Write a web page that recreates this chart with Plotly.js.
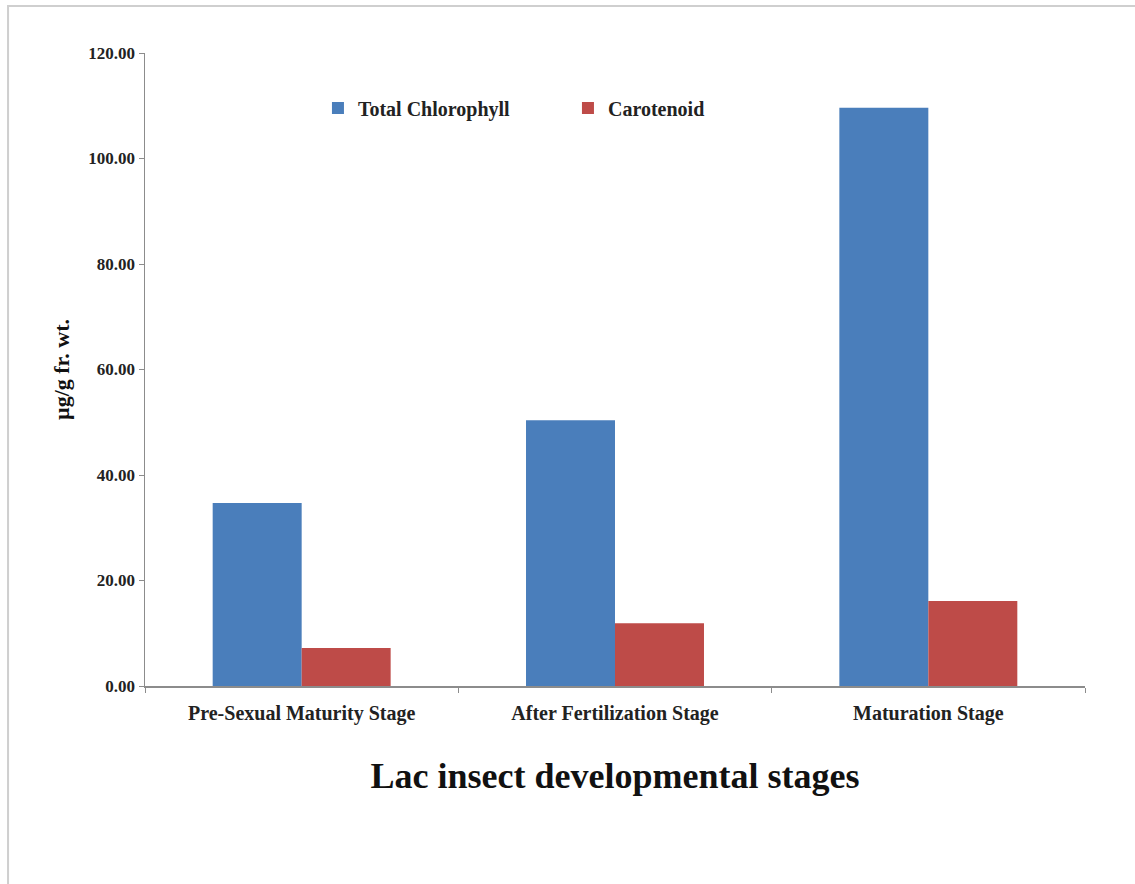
<!DOCTYPE html>
<html>
<head>
<meta charset="utf-8">
<script src="https://cdn.plot.ly/plotly-3.0.1.min.js"></script>
<style>
  html, body { margin: 0; padding: 0; background: #fff; }
  #chart { width: 1135px; height: 884px; }
</style>
</head>
<body>
<div id="chart"></div>
<script>
const categories = ["Pre-Sexual Maturity Stage", "After Fertilization Stage", "Maturation Stage"];
const totalChlorophyll = [34.7, 50.4, 109.6];
const carotenoid = [7.2, 11.9, 16.1];
const yTickValues = [0, 20, 40, 60, 80, 100, 120];
const yTickLabels = ["0.00", "20.00", "40.00", "60.00", "80.00", "100.00", "120.00"];

const serif = "Liberation Serif, Times New Roman, serif";

const traces = [
  {
    type: "bar", name: "Total Chlorophyll", x: categories, y: totalChlorophyll,
    marker: { color: "#4a7ebb" }
  },
  {
    type: "bar", name: "Carotenoid", x: categories, y: carotenoid,
    marker: { color: "#be4b48" }
  }
];

const layout = {
  width: 1135, height: 884,
  margin: { l: 145, r: 50, t: 53, b: 198 },
  paper_bgcolor: "#ffffff", plot_bgcolor: "#ffffff",
  barmode: "group", bargap: 0.432, bargroupgap: 0,
  showlegend: true,
  legend: {
    orientation: "h", x: 0.184, y: 0.913, xanchor: "left", yanchor: "middle",
    font: { family: serif, size: 20, color: "#222", weight: "bold" },
    entrywidth: 205, itemwidth: 30, bgcolor: "rgba(0,0,0,0)"
  },
  xaxis: {
    type: "category",
    showline: true, linecolor: "#8c8c8c", linewidth: 1.5,
    ticks: "outside", tickson: "boundaries", ticklen: 5, tickcolor: "#8c8c8c",
    tickfont: { family: serif, size: 20, color: "#222", weight: "bold" },
    ticklabelstandoff: 8,
    showgrid: false, zeroline: false,
    title: { text: "<b>Lac insect developmental stages</b>", font: { family: serif, size: 36, color: "#111" }, standoff: 39 }
  },
  yaxis: {
    range: [0, 120],
    tickvals: yTickValues, ticktext: yTickLabels,
    showline: true, linecolor: "#8c8c8c", linewidth: 1.5,
    ticks: "outside", ticklen: 5, tickcolor: "#8c8c8c",
    tickfont: { family: serif, size: 17, color: "#222", weight: "bold" },
    showgrid: false, zeroline: false,
    title: { text: "<b>µg/g fr. wt.</b>", font: { family: serif, size: 22, color: "#111" }, standoff: 12 }
  },
  shapes: [
    {
      type: "rect", xref: "paper", yref: "paper",
      x0: -0.1457, x1: 1.07, y0: -0.33, y1: 1.0742,
      line: { color: "#cfcfcf", width: 2 }, fillcolor: "rgba(0,0,0,0)", layer: "below"
    }
  ]
};

Plotly.newPlot("chart", traces, layout, { displayModeBar: false, staticPlot: true });
</script>
</body>
</html>
